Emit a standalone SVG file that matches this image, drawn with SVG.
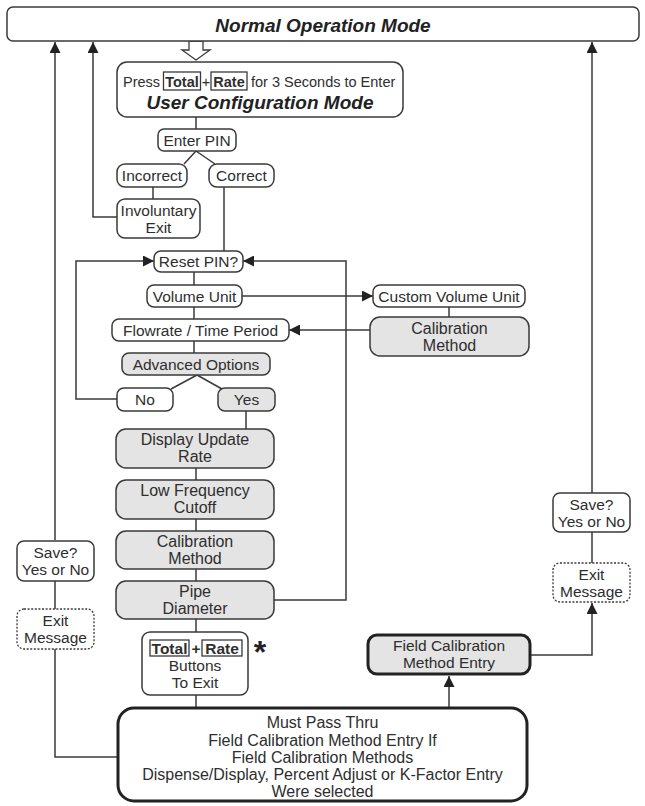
<svg xmlns="http://www.w3.org/2000/svg" width="645" height="806" viewBox="0 0 645 806">
<style>
.box{fill:#fff;stroke:#3a3a3a;stroke-width:1.5}
.gray{fill:#e4e4e4;stroke:#3a3a3a;stroke-width:1.5}
.thick{fill:#fff;stroke:#222;stroke-width:3}
.thickg{fill:#e4e4e4;stroke:#222;stroke-width:3}
.dash{fill:#fff;stroke:#3a3a3a;stroke-width:1.3;stroke-dasharray:2 1.6}
.kb{fill:none;stroke:#3a3a3a;stroke-width:1.3}
.t{font-family:"Liberation Sans",Arial,sans-serif;font-size:15.5px;fill:#2e2e2e;text-anchor:middle}
.ts{font-family:"Liberation Sans",Arial,sans-serif;font-size:14.5px;fill:#2e2e2e}
.l{font-size:16px}
.b{font-weight:bold}
.title{font-family:"Liberation Sans",Arial,sans-serif;font-size:19px;font-weight:bold;font-style:italic;fill:#222;text-anchor:middle}
.ln{fill:none;stroke:#3a3a3a;stroke-width:1.5}
</style>
<defs>
<marker id="ah" viewBox="0 0 10 10" refX="10" refY="5" markerWidth="12" markerHeight="11" markerUnits="userSpaceOnUse" orient="auto"><path d="M0,0 L10,5 L0,10 z" fill="#222"/></marker>
</defs>

<g id="connectors">
  <path class="ln" d="M55,540 V42" marker-end="url(#ah)"/>
  <path class="ln" d="M117,217 H93 V42" marker-end="url(#ah)"/>
  <path class="ln" d="M592,493 V42" marker-end="url(#ah)"/>
  <path d="M189,41 H203 V50 H210 L196,60 L182,50 H189 Z" fill="#fff" stroke="#3a3a3a" stroke-width="1.3"/>
  <path class="ln" d="M196,117 V129"/>
  <path class="ln" d="M196,151 L184,164 M196,151 L215,164"/>
  <path class="ln" d="M153,187 V199"/>
  <path class="ln" d="M224,187 V251"/>
  <path class="ln" d="M117,399 H76 V261 H154" marker-end="url(#ah)"/>
  <path class="ln" d="M274,600 H346 V261 H243" marker-end="url(#ah)"/>
  <path class="ln" d="M194,272 V285"/>
  <path class="ln" d="M242,296 H373" marker-end="url(#ah)"/>
  <path class="ln" d="M449,307 V317"/>
  <path class="ln" d="M370,330 H289" marker-end="url(#ah)"/>
  <path class="ln" d="M194,307 V319"/>
  <path class="ln" d="M194,341 V353"/>
  <path class="ln" d="M197,375 L171,389 M197,375 L222,389"/>
  <path class="ln" d="M246,411 V429"/>
  <path class="ln" d="M196,468 V480"/>
  <path class="ln" d="M196,519 V531"/>
  <path class="ln" d="M196,569 V581"/>
  <path class="ln" d="M196,619 V632"/>
  <path class="ln" d="M196,695 V708"/>
  <path class="ln" d="M55,581 V609"/>
  <path class="ln" d="M55,649 V757 H118"/>
  <path class="ln" d="M449,708 V676" marker-end="url(#ah)"/>
  <path class="ln" d="M530,655 H592 V603" marker-end="url(#ah)"/>
  <path class="ln" d="M592,532 V563"/>
</g>

<g id="normal-operation-mode">
  <rect class="box" x="7" y="7" width="632" height="34" rx="6"/>
  <text class="title" x="323" y="32">Normal Operation Mode</text>
</g>

<g id="user-config">
  <rect class="box" x="117" y="62" width="286" height="55" rx="10"/>
  <text class="ts" x="123" y="87">Press</text>
  <rect class="kb" x="163.5" y="72" width="37" height="18"/>
  <text class="ts b" x="182" y="87" text-anchor="middle">Total</text>
  <text class="ts" x="206" y="87" text-anchor="middle">+</text>
  <rect class="kb" x="211" y="72" width="36" height="18"/>
  <text class="ts b" x="229" y="87" text-anchor="middle">Rate</text>
  <text class="ts" x="251" y="87">for 3 Seconds to Enter</text>
  <text class="title" x="260" y="109">User Configuration Mode</text>
</g>

<g id="enter-pin">
  <rect class="box" x="158" y="129" width="78" height="22" rx="6"/>
  <text class="t" x="197" y="145.5">Enter PIN</text>
</g>

<g id="incorrect">
  <rect class="box" x="117" y="164" width="70" height="23" rx="8"/>
  <text class="t" x="152" y="181">Incorrect</text>
</g>

<g id="correct">
  <rect class="box" x="209" y="164" width="65" height="23" rx="8"/>
  <text class="t" x="241.5" y="181">Correct</text>
</g>

<g id="involuntary-exit">
  <rect class="box" x="117" y="199" width="83" height="39" rx="8"/>
  <text class="t" x="158.5" y="216">Involuntary</text>
  <text class="t" x="158.5" y="233">Exit</text>
</g>

<g id="reset-pin">
  <rect class="box" x="154" y="251" width="89" height="21" rx="7"/>
  <text class="t" x="198.5" y="267">Reset PIN?</text>
</g>

<g id="volume-unit">
  <rect class="box" x="147" y="285" width="95" height="22" rx="7"/>
  <text class="t" x="194.5" y="301.5">Volume Unit</text>
</g>

<g id="custom-volume-unit">
  <rect class="box" x="373" y="285" width="152" height="22" rx="7"/>
  <text class="t" x="449" y="301.5">Custom Volume Unit</text>
</g>

<g id="calibration-method-right">
  <rect class="gray" x="370" y="317" width="159" height="39" rx="10"/>
  <text class="t l" x="449.5" y="334">Calibration</text>
  <text class="t l" x="449.5" y="351">Method</text>
</g>

<g id="flowrate">
  <rect class="box" x="112" y="319" width="177" height="22" rx="7"/>
  <text class="t" x="200.5" y="335.5">Flowrate / Time Period</text>
</g>

<g id="advanced-options">
  <rect class="gray" x="122" y="353" width="148" height="22" rx="7"/>
  <text class="t" x="196" y="369.5">Advanced Options</text>
</g>

<g id="no">
  <rect class="box" x="117" y="388" width="56" height="23" rx="7"/>
  <text class="t" x="145" y="405">No</text>
</g>

<g id="yes">
  <rect class="gray" x="218" y="388" width="57" height="23" rx="7"/>
  <text class="t" x="246.5" y="405">Yes</text>
</g>

<g id="display-update-rate">
  <rect class="gray" x="116" y="429" width="158" height="39" rx="10"/>
  <text class="t l" x="195" y="445">Display Update</text>
  <text class="t l" x="195" y="462">Rate</text>
</g>

<g id="low-frequency-cutoff">
  <rect class="gray" x="116" y="480" width="158" height="39" rx="10"/>
  <text class="t l" x="195" y="496">Low Frequency</text>
  <text class="t l" x="195" y="513">Cutoff</text>
</g>

<g id="calibration-method">
  <rect class="gray" x="116" y="531" width="158" height="38" rx="10"/>
  <text class="t l" x="195" y="547">Calibration</text>
  <text class="t l" x="195" y="564">Method</text>
</g>

<g id="pipe-diameter">
  <rect class="gray" x="116" y="581" width="158" height="38" rx="10"/>
  <text class="t l" x="195" y="597">Pipe</text>
  <text class="t l" x="195" y="614">Diameter</text>
</g>

<g id="buttons-to-exit">
  <rect class="box" x="142" y="632" width="106" height="63" rx="8"/>
  <rect class="kb" x="150" y="640" width="39" height="16"/>
  <text class="t b" x="169.5" y="654">Total</text>
  <text class="t b" x="196" y="654">+</text>
  <rect class="kb" x="202" y="640" width="40" height="16"/>
  <text class="t b" x="222" y="654">Rate</text>
  <text class="t" x="195" y="671">Buttons</text>
  <text class="t" x="195" y="688">To Exit</text>
  <text class="t b" x="260" y="663" style="font-size:32px;fill:#222">*</text>
</g>

<g id="must-pass-thru">
  <rect class="thick" x="118" y="708" width="409" height="93" rx="16"/>
  <text class="t l" x="322.5" y="728">Must Pass Thru</text>
  <text class="t l" x="322.5" y="746">Field Calibration Method Entry If</text>
  <text class="t l" x="322.5" y="763">Field Calibration Methods</text>
  <text class="t l" x="322.5" y="780">Dispense/Display, Percent Adjust or K-Factor Entry</text>
  <text class="t l" x="322.5" y="797">Were selected</text>
</g>

<g id="field-calibration-method-entry">
  <rect class="thickg" x="368" y="635" width="162" height="39" rx="9"/>
  <text class="t" x="449" y="651">Field Calibration</text>
  <text class="t" x="449" y="668">Method Entry</text>
</g>

<g id="save-left">
  <rect class="box" x="17" y="541" width="77" height="40" rx="7"/>
  <text class="t" x="55.5" y="558">Save?</text>
  <text class="t" x="55.5" y="575">Yes or No</text>
</g>

<g id="exit-left">
  <rect class="dash" x="17" y="609" width="77" height="40" rx="7"/>
  <text class="t" x="55.5" y="626">Exit</text>
  <text class="t" x="55.5" y="643">Message</text>
</g>

<g id="save-right">
  <rect class="box" x="553" y="493" width="77" height="39" rx="7"/>
  <text class="t" x="591.5" y="510">Save?</text>
  <text class="t" x="591.5" y="527">Yes or No</text>
</g>

<g id="exit-right">
  <rect class="dash" x="553" y="563" width="77" height="39" rx="7"/>
  <text class="t" x="591.5" y="580">Exit</text>
  <text class="t" x="591.5" y="597">Message</text>
</g>
</svg>
